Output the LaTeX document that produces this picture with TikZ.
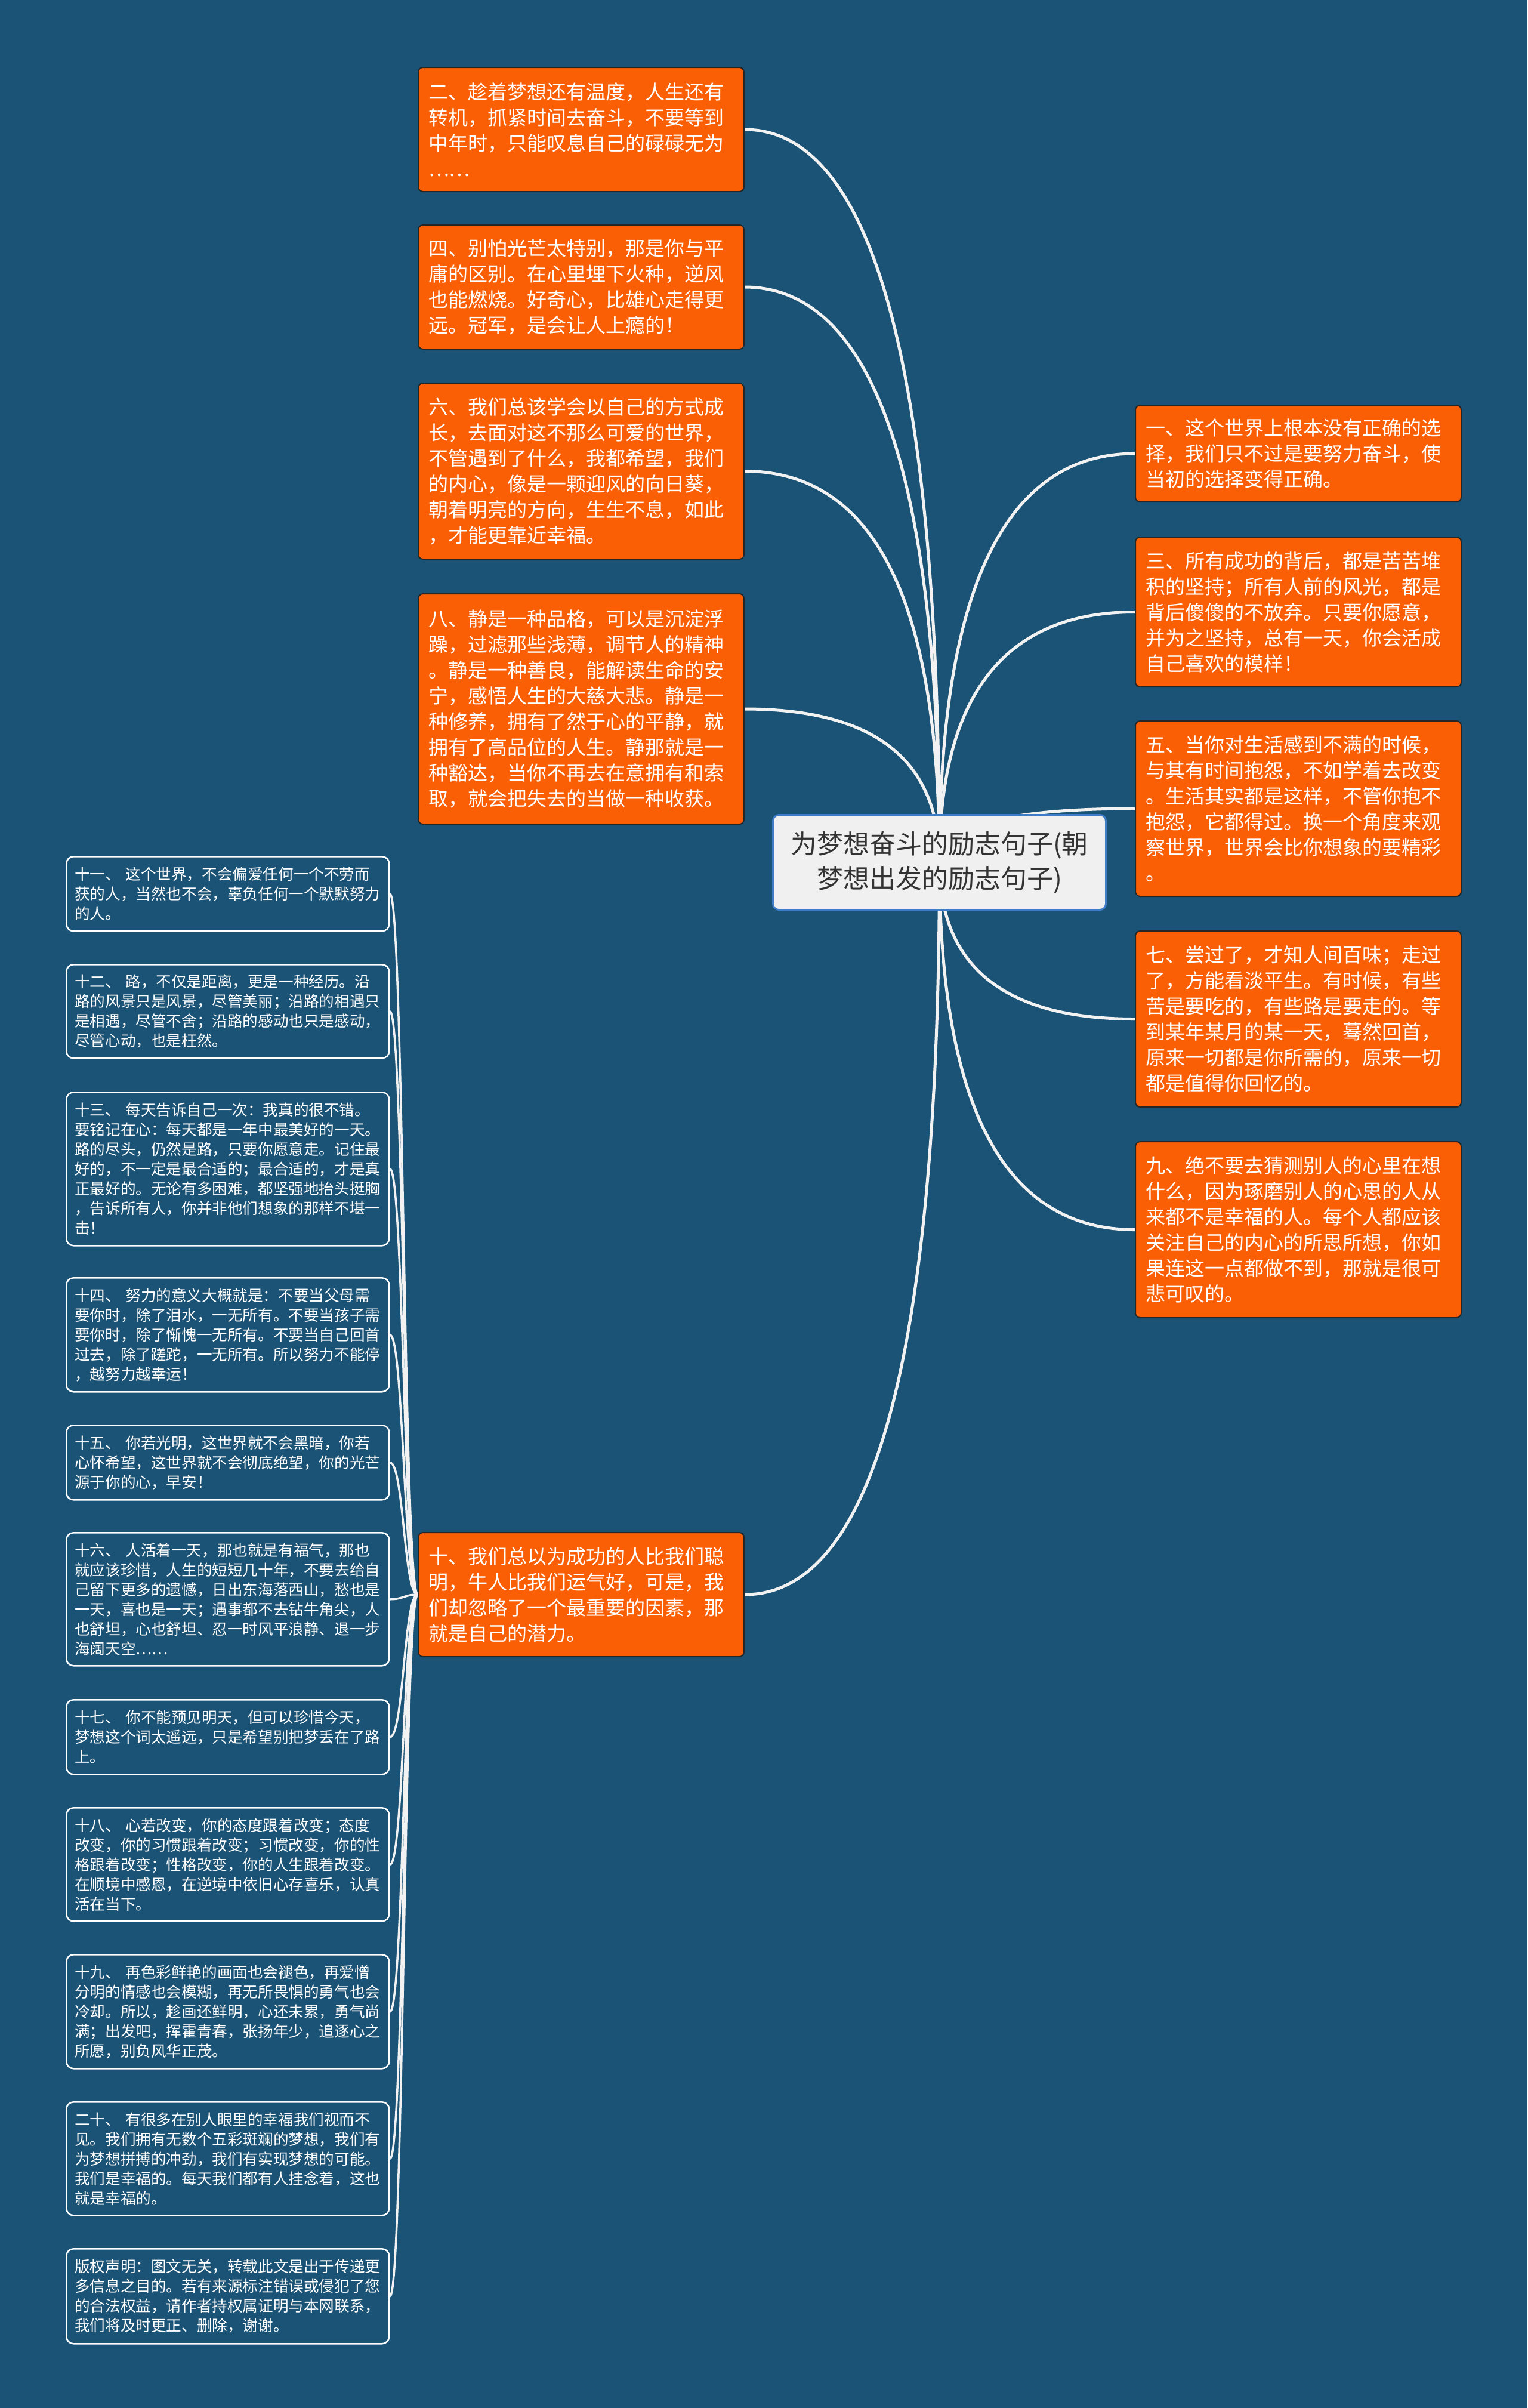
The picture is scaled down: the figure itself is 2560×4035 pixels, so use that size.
\documentclass[tikz,border=0pt]{standalone}
\usepackage{fontspec}
\setmainfont{Noto Sans CJK SC}
\usetikzlibrary{calc}
\definecolor{bgC}{RGB}{27,83,118}
\definecolor{orangeC}{RGB}{250,95,5}
\definecolor{lineC}{RGB}{242,242,242}
\definecolor{ctrFill}{RGB}{240,240,240}
\definecolor{ctrBorder}{RGB}{62,124,200}
\definecolor{ctrText}{RGB}{51,51,51}
\pgfdeclarelayer{bglayer}
\pgfdeclarelayer{linelayer}
\pgfsetlayers{bglayer,linelayer,main}
\tikzset{
  obox/.style={draw=black!85, line width=2pt, fill=orangeC, rounded corners=8pt,
    anchor=north west, text=white, align=left, inner xsep=17pt, inner ysep=3pt,
    minimum width=546pt, text width=512pt, font=\fontsize{33pt}{43pt}\selectfont},
  bbox/.style={draw=white, line width=2.5pt, fill=bgC, rounded corners=12pt,
    anchor=north west, text=white, align=left, inner xsep=14pt, inner ysep=3pt,
    minimum width=541pt, text width=513pt, font=\fontsize{25.6pt}{33pt}\selectfont},
  cbox/.style={draw=ctrBorder, line width=3pt, fill=ctrFill, rounded corners=10pt,
    anchor=north west, text=ctrText, align=center, inner sep=3pt,
    minimum width=558pt, minimum height=159pt, font=\fontsize{44pt}{58pt}\selectfont},
  conn/.style={draw=lineC, line width=5pt},
  bconn/.style={draw=lineC, line width=3.5pt}
}
\newcommand\mmqcurve[2]{\draw[conn] (#1) .. controls ($(#1)!0.6667!(#1 |- #2)$) and ($(#2)!0.6667!(#1 |- #2)$) .. (#2);}
\newcommand\mmscurve[2]{\coordinate (mmid) at ($(#1)!0.5!(#2)$); \draw[bconn] (#1) .. controls (mmid |- #1) and (mmid |- #2) .. (#2);}
\begin{document}
\begin{tikzpicture}[x=1pt,y=-1pt]
\begin{pgfonlayer}{bglayer}
\fill[bgC] (0,0) rectangle (2560,4035);
\end{pgfonlayer}
\useasboundingbox (0,0) rectangle (2560,4035);

% center
\node[cbox] (c) at (1294,1364) {为梦想奋斗的励志句子(朝\\梦想出发的励志句子)};

% left orange
\node[obox, minimum height=208pt] (n2) at (700,112) {二、趁着梦想还有温度，人生还有\\转机，抓紧时间去奋斗，不要等到\\中年时，只能叹息自己的碌碌无为\\……};
\node[obox, minimum height=208pt] (n4) at (700,376) {四、别怕光芒太特别，那是你与平\\庸的区别。在心里埋下火种，逆风\\也能燃烧。好奇心，比雄心走得更\\远。冠军，是会让人上瘾的！};
\node[obox, minimum height=295pt] (n6) at (700,641) {六、我们总该学会以自己的方式成\\长，去面对这不那么可爱的世界，\\不管遇到了什么，我都希望，我们\\的内心，像是一颗迎风的向日葵，\\朝着明亮的方向，生生不息，如此\\，才能更靠近幸福。};
\node[obox, minimum height=386pt] (n8) at (700,994) {八、静是一种品格，可以是沉淀浮\\躁，过滤那些浅薄，调节人的精神\\。静是一种善良，能解读生命的安\\宁，感悟人生的大慈大悲。静是一\\种修养，拥有了然于心的平静，就\\拥有了高品位的人生。静那就是一\\种豁达，当你不再去在意拥有和索\\取，就会把失去的当做一种收获。};
\node[obox, minimum height=208pt] (n10) at (700,2567) {十、我们总以为成功的人比我们聪\\明，牛人比我们运气好，可是，我\\们却忽略了一个最重要的因素，那\\就是自己的潜力。};

% right orange
\node[obox, minimum height=162pt] (n1) at (1902,678) {一、这个世界上根本没有正确的选\\择，我们只不过是要努力奋斗，使\\当初的选择变得正确。};
\node[obox, minimum height=251pt] (n3) at (1902,899) {三、所有成功的背后，都是苦苦堆\\积的坚持；所有人前的风光，都是\\背后傻傻的不放弃。只要你愿意，\\并为之坚持，总有一天，你会活成\\自己喜欢的模样！};
\node[obox, minimum height=294pt] (n5) at (1902,1207) {五、当你对生活感到不满的时候，\\与其有时间抱怨，不如学着去改变\\。生活其实都是这样，不管你抱不\\抱怨，它都得过。换一个角度来观\\察世界，世界会比你想象的要精彩\\。};
\node[obox, minimum height=295pt] (n7) at (1902,1559) {七、尝过了，才知人间百味；走过\\了，方能看淡平生。有时候，有些\\苦是要吃的，有些路是要走的。等\\到某年某月的某一天，蓦然回首，\\原来一切都是你所需的，原来一切\\都是值得你回忆的。};
\node[obox, minimum height=295pt] (n9) at (1902,1912) {九、绝不要去猜测别人的心里在想\\什么，因为琢磨别人的心思的人从\\来都不是幸福的人。每个人都应该\\关注自己的内心的所思所想，你如\\果连这一点都做不到，那就是很可\\悲可叹的。};

% left blue
\node[bbox, minimum height=125pt] (n11) at (110,1434) {十一、 这个世界，不会偏爱任何一个不劳而\\获的人，当然也不会，辜负任何一个默默努力\\的人。};
\node[bbox, minimum height=157pt] (n12) at (110,1615) {十二、 路，不仅是距离，更是一种经历。沿\\路的风景只是风景，尽管美丽；沿路的相遇只\\是相遇，尽管不舍；沿路的感动也只是感动，\\尽管心动，也是枉然。};
\node[bbox, minimum height=257pt] (n13) at (110,1829) {十三、 每天告诉自己一次：我真的很不错。\\要铭记在心：每天都是一年中最美好的一天。\\路的尽头，仍然是路，只要你愿意走。记住最\\好的，不一定是最合适的；最合适的，才是真\\正最好的。无论有多困难，都坚强地抬头挺胸\\，告诉所有人，你并非他们想象的那样不堪一\\击！};
\node[bbox, minimum height=191pt] (n14) at (110,2140) {十四、 努力的意义大概就是：不要当父母需\\要你时，除了泪水，一无所有。不要当孩子需\\要你时，除了惭愧一无所有。不要当自己回首\\过去，除了蹉跎，一无所有。所以努力不能停\\，越努力越幸运！};
\node[bbox, minimum height=125pt] (n15) at (110,2387) {十五、 你若光明，这世界就不会黑暗，你若\\心怀希望，这世界就不会彻底绝望，你的光芒\\源于你的心，早安！};
\node[bbox, minimum height=223pt] (n16) at (110,2567) {十六、 人活着一天，那也就是有福气，那也\\就应该珍惜，人生的短短几十年，不要去给自\\己留下更多的遗憾，日出东海落西山，愁也是\\一天，喜也是一天；遇事都不去钻牛角尖，人\\也舒坦，心也舒坦、忍一时风平浪静、退一步\\海阔天空……};
\node[bbox, minimum height=125pt] (n17) at (110,2847) {十七、 你不能预见明天，但可以珍惜今天，\\梦想这个词太遥远，只是希望别把梦丢在了路\\上。};
\node[bbox, minimum height=190pt] (n18) at (110,3028) {十八、 心若改变，你的态度跟着改变；态度\\改变，你的习惯跟着改变；习惯改变，你的性\\格跟着改变；性格改变，你的人生跟着改变。\\在顺境中感恩，在逆境中依旧心存喜乐，认真\\活在当下。};
\node[bbox, minimum height=191pt] (n19) at (110,3274) {十九、 再色彩鲜艳的画面也会褪色，再爱憎\\分明的情感也会模糊，再无所畏惧的勇气也会\\冷却。所以，趁画还鲜明，心还未累，勇气尚\\满；出发吧，挥霍青春，张扬年少，追逐心之\\所愿，别负风华正茂。};
\node[bbox, minimum height=190pt] (n20) at (110,3521) {二十、 有很多在别人眼里的幸福我们视而不\\见。我们拥有无数个五彩斑斓的梦想，我们有\\为梦想拼搏的冲劲，我们有实现梦想的可能。\\我们是幸福的。每天我们都有人挂念着，这也\\就是幸福的。};
\node[bbox, minimum height=159pt] (n21) at (110,3767) {版权声明：图文无关，转载此文是出于传递更\\多信息之目的。若有来源标注错误或侵犯了您\\的合法权益，请作者持权属证明与本网联系，\\我们将及时更正、删除，谢谢。};

\begin{pgfonlayer}{linelayer}
\mmqcurve{c.center}{n2.east}
\mmqcurve{c.center}{n4.east}
\mmqcurve{c.center}{n6.east}
\mmqcurve{c.center}{n8.east}
\mmqcurve{c.center}{n10.east}
\mmqcurve{c.center}{n1.west}
\mmqcurve{c.center}{n3.west}
\mmqcurve{c.center}{n5.west}
\mmqcurve{c.center}{n7.west}
\mmqcurve{c.center}{n9.west}
\mmscurve{n10.west}{n11.east}
\mmscurve{n10.west}{n12.east}
\mmscurve{n10.west}{n13.east}
\mmscurve{n10.west}{n14.east}
\mmscurve{n10.west}{n15.east}
\mmscurve{n10.west}{n16.east}
\mmscurve{n10.west}{n17.east}
\mmscurve{n10.west}{n18.east}
\mmscurve{n10.west}{n19.east}
\mmscurve{n10.west}{n20.east}
\mmscurve{n10.west}{n21.east}
\end{pgfonlayer}
\end{tikzpicture}
\end{document}
